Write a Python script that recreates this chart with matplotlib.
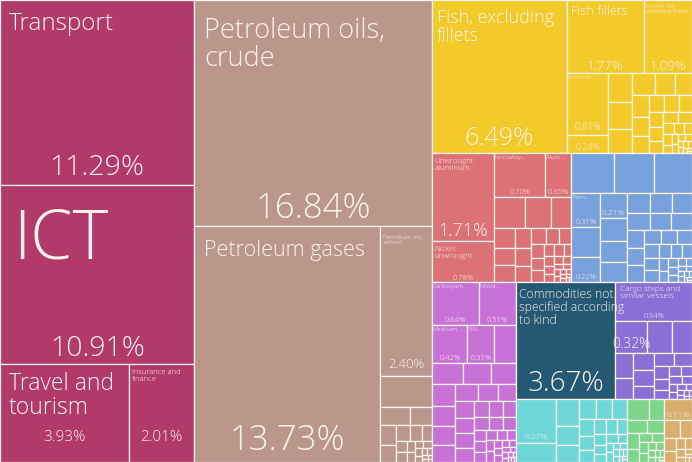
import matplotlib
matplotlib.use("Agg")
import matplotlib.pyplot as plt
from matplotlib.patches import Rectangle

# ---------------- data (percent of exports) ----------------
services = [11.29, 10.91, 3.93, 2.01]
minerals = [16.84, 13.73, 2.40, 0.50, 0.17, 0.12, 0.10, 0.08, 0.07, 0.06, 0.05, 0.04,
            0.035, 0.03, 0.025, 0.02, 0.02, 0.015, 0.012, 0.01, 0.01, 0.008, 0.006, 0.005, 0.004]
fish = [6.49, 1.77, 1.09, 0.81, 0.24, 0.22, 0.20, 0.18, 0.16, 0.14, 0.12, 0.11, 0.10, 0.09,
        0.085, 0.08, 0.07, 0.065, 0.06, 0.055, 0.05, 0.045, 0.04, 0.035, 0.03, 0.03, 0.025,
        0.02, 0.02, 0.015, 0.015, 0.01, 0.01, 0.01, 0.008, 0.006, 0.005, 0.004]
metals = [1.71, 0.78, 0.70, 0.35, 0.31, 0.26, 0.20, 0.13, 0.12, 0.11, 0.10, 0.09, 0.08, 0.07,
          0.065, 0.06, 0.055, 0.05, 0.045, 0.04, 0.035, 0.03, 0.03, 0.025, 0.025, 0.02, 0.02,
          0.015, 0.015, 0.012, 0.01, 0.01, 0.008, 0.008, 0.006, 0.005, 0.004, 0.003]
machinery = [0.52, 0.50, 0.46, 0.31, 0.28, 0.22, 0.21, 0.19, 0.17, 0.16, 0.15, 0.14, 0.13,
             0.12, 0.11, 0.11, 0.10, 0.09, 0.09, 0.08, 0.075, 0.07, 0.065, 0.06, 0.055, 0.05,
             0.045, 0.04, 0.035, 0.03, 0.03, 0.025, 0.02, 0.02, 0.015, 0.015, 0.01, 0.01,
             0.01, 0.008, 0.006, 0.005, 0.004, 0.003]
chemicals = [0.64, 0.51, 0.42, 0.31, 0.26, 0.21, 0.19, 0.17, 0.16, 0.15, 0.14, 0.13, 0.12,
             0.11, 0.10, 0.095, 0.09, 0.085, 0.08, 0.075, 0.07, 0.065, 0.06, 0.055, 0.05,
             0.045, 0.04, 0.04, 0.035, 0.03, 0.03, 0.025, 0.025, 0.02, 0.02, 0.018, 0.015,
             0.015, 0.012, 0.01, 0.01, 0.008, 0.008, 0.006, 0.005, 0.004, 0.003]
commodities = [3.67]
vehicles = [0.94, 0.32, 0.26, 0.20, 0.14, 0.12, 0.11, 0.10, 0.09, 0.08, 0.07, 0.06, 0.05,
            0.045, 0.04, 0.035, 0.03, 0.025, 0.02, 0.02, 0.015, 0.012, 0.01, 0.01, 0.008,
            0.006, 0.005, 0.004]
textiles = [0.55, 0.24, 0.19, 0.13, 0.12, 0.11, 0.10, 0.09, 0.08, 0.07, 0.06, 0.055, 0.05,
            0.045, 0.04, 0.035, 0.03, 0.03, 0.025, 0.02, 0.02, 0.015, 0.015, 0.012, 0.01,
            0.01, 0.008, 0.006, 0.005, 0.004]
agriculture = [0.14, 0.10, 0.08, 0.07, 0.06, 0.05, 0.04, 0.035, 0.03, 0.025, 0.02, 0.02,
               0.015, 0.012, 0.01, 0.008, 0.006, 0.005, 0.004]
stone = [0.18, 0.09, 0.07, 0.05, 0.04, 0.03, 0.025, 0.02, 0.015, 0.01, 0.008, 0.006, 0.004]

DATA = {"services": services, "minerals": minerals, "fish": fish, "metals": metals,
        "machinery": machinery, "chemicals": chemicals, "commodities": commodities,
        "vehicles": vehicles, "textiles": textiles, "agriculture": agriculture,
        "stone": stone}

# labels: (name, percent text) for the leading cells of each category
LABELS = {
    "services": [("Transport", "11.29%"), ("ICT", "10.91%"),
                 ("Travel and\ntourism", "3.93%"), ("Insurance and\nfinance", "2.01%")],
    "minerals": [("Petroleum oils,\ncrude", "16.84%"), ("Petroleum gases", "13.73%"),
                 ("Petroleum oils,\nrefined", "2.40%")],
    "fish": [("Fish, excluding\nfillets", "6.49%"), ("Fish fillets", "1.77%"),
             ("Frozen fish,\nexcluding fillets", "1.09%"), ("Preserve", "0.81%"), ("", "0.24%")],
    "metals": [("Unwrought\naluminum", "1.71%"), ("Nickel\nunwrought", "0.78%"),
               ("Ferroalloy...", "0.70%"), ("Alum...", "0.35%")],
    "machinery": [("", ""), ("", ""), ("", ""), ("Parts...", "0.31%"), ("", ""),
                  ("", "0.22%"), ("", "0.21%")],
    "chemicals": [("Carboxyam...", "0.64%"), ("Mixed...", "0.51%"),
                  ("Medicam...", "0.42%"), ("Silic...", "0.31%")],
    "commodities": [("Commodities not\nspecified according\nto kind", "3.67%")],
    "vehicles": [("Cargo ships and\nsimilar vessels", "0.94%"), ("", "0.32%")],
    "textiles": [("", "0.27%")],
    "stone": [("", "0.11%")],
}

# ---------------- styles ----------------
COLORS = {"services": "#B13A6A", "minerals": "#BA978A", "fish": "#F2CA2A",
          "metals": "#DC7176", "machinery": "#79A1DD", "chemicals": "#C872D8",
          "commodities": "#255873", "vehicles": "#8A70D6", "textiles": "#6ED8D8",
          "agriculture": "#7CD68C", "stone": "#DAAE6C"}
# name font size, x offset, y offset
NAME_STYLE = {"services": [(17.5, 9, 12), (49, 13, 21), (16.5, 9, 8), (5.5, 3, 5)],
              "minerals": [(19.5, 10, 17), (15.5, 10, 14), (4.3, 3, 9)],
              "fish": [(13, 5, 9), (9.3, 4, 5), (4.3, 2, 4), (4.3, 1, 2), (0, 0, 0)],
              "metals": [(5.6, 3, 5), (5.6, 3, 5), (4.4, 1, 2), (4.4, 1, 2)],
              "machinery": [(0, 0, 0)] * 3 + [(4.4, 1, 2)] + [(0, 0, 0)] * 3,
              "chemicals": [(4.4, 1, 2)] * 4,
              "commodities": [(8.7, 3, 6)],
              "vehicles": [(6.0, 5, 4), (0, 0, 0)],
              "textiles": [(0, 0, 0)], "stone": [(0, 0, 0)]}
# percent font size, gap to cell bottom
PCT_STYLE = {"services": [(20.5, 3), (20.5, 1), (11, 17), (11, 17)],
             "minerals": [(25, 0), (25, 4), (9.5, 5)],
             "fish": [(18, 2), (9.5, 0), (9.5, 0), (7, 2), (6.5, 1)],
             "metals": [(13, 1), (5.5, 0), (5.5, 1), (5.5, 1)],
             "machinery": [(0, 0)] * 3 + [(5.5, 1), (0, 0), (5.5, 1), (6, 1)],
             "chemicals": [(5.5, 1)] * 4,
             "commodities": [(20, 1)],
             "vehicles": [(5.5, 1), (10, 1)],
             "textiles": [(6, 2)], "stone": [(6, 1)]}

W, H = 692, 462
FONT = ["Open Sans", "DejaVu Sans"]
TXT = "#FBF4EE"

# layout structure (split orientation only)
TREE = ("h", [("cat", "services"), ("cat", "minerals"),
              ("v", [("cat", "fish"),
                     ("h", [("cat", "metals"), ("cat", "machinery")]),
                     ("h", [("cat", "chemicals"),
                            ("grp", [("cat", "commodities"), ("cat", "vehicles"),
                                     ("cat", "textiles"), ("cat", "agriculture"),
                                     ("cat", "stone")])])])])


def squarify(values, x, y, w, h):
    rects = []
    total = float(sum(values))
    n = len(values)
    i0 = 0
    while i0 < n:
        dx, dy = w, h
        i1 = i0
        s = values[i1]
        i1 += 1
        mn = mx = s
        alpha = max(dy / dx, dx / dy) / total
        beta = s * s * alpha
        minr = max(mx / beta, beta / mn)
        while i1 < n:
            v = values[i1]
            s2 = s + v
            mn2, mx2 = min(mn, v), max(mx, v)
            beta = s2 * s2 * alpha
            r = max(mx2 / beta, beta / mn2)
            if r > minr:
                break
            s, mn, mx, minr = s2, mn2, mx2, r
            i1 += 1
        row = values[i0:i1]
        last = i1 >= n
        if dx < dy:
            rh = dy if last else dy * s / total
            xx = x
            for v in row:
                rw = dx * v / s
                rects.append((xx, y, rw, rh))
                xx += rw
            y += rh
            h -= rh
        else:
            rw = dx if last else dx * s / total
            yy = y
            for v in row:
                rh = dy * v / s
                rects.append((x, yy, rw, rh))
                yy += rh
            x += rw
            w -= rw
        total -= s
        i0 = i1
    return rects


def node_value(node):
    if node[0] == "cat":
        return sum(DATA[node[1]])
    return sum(node_value(c) for c in node[1])


fig = plt.figure(figsize=(W / 100, H / 100), dpi=100)
ax = fig.add_axes([0, 0, 1, 1])
ax.set_xlim(0, W)
ax.set_ylim(H, 0)
ax.axis("off")


def draw_cat(cat, x, y, w, h):
    vals = DATA[cat]
    rects = squarify(vals, x, y, w, h)
    for (rx, ry, rw, rh) in rects:
        ax.add_patch(Rectangle((rx, ry), rw, rh, facecolor=COLORS[cat],
                               edgecolor="#FBF6F0", linewidth=0.9))
    for i, (name, pct) in enumerate(LABELS.get(cat, [])):
        rx, ry, rw, rh = rects[i]
        ns, ndx, ndy = NAME_STYLE[cat][i]
        ps, pg = PCT_STYLE[cat][i]
        if name and ns:
            ax.text(rx + ndx, ry + ndy, name, color=TXT, fontsize=ns, family=FONT,
                    fontweight="light", va="top", ha="left", linespacing=1.0)
        if pct and ps:
            ax.text(rx + rw / 2, ry + rh - pg, pct, color=TXT, fontsize=ps,
                    family=FONT, fontweight="light", va="bottom", ha="center")


def place(node, x, y, w, h):
    kind = node[0]
    if kind == "cat":
        draw_cat(node[1], x, y, w, h)
    elif kind in ("h", "v"):
        children = node[1]
        tot = sum(node_value(c) for c in children)
        for c in children:
            f = node_value(c) / tot
            if kind == "h":
                place(c, x, y, w * f, h)
                x += w * f
            else:
                place(c, x, y, w, h * f)
                y += h * f
    elif kind == "grp":
        children = node[1]
        rects = squarify([node_value(c) for c in children], x, y, w, h)
        for c, r in zip(children, rects):
            place(c, *r)


place(TREE, 0, 0, W, H)
fig.savefig("out.png", dpi=100)
